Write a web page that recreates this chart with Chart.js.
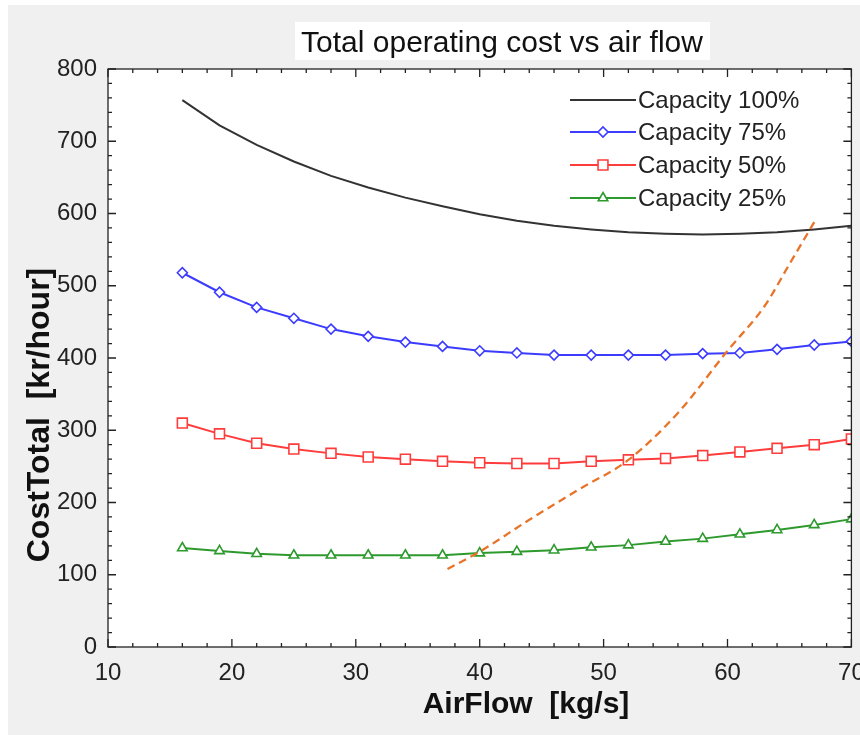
<!DOCTYPE html>
<html>
<head>
<meta charset="utf-8">
<script src="https://cdn.jsdelivr.net/npm/chart.js@4/dist/chart.umd.min.js"></script>
<style>
  html, body { margin: 0; padding: 0; background: #fff; }
  #wrap { width: 860px; height: 735px; }
</style>
</head>
<body>
<div id="wrap"><canvas id="costchart" width="860" height="735"></canvas></div>
<script>
// values
const airFlow = [16, 19, 22, 25, 28, 31, 34, 37, 40, 43, 46, 49, 52, 55, 58, 61, 64, 67, 70];
const cap100 = [757, 722, 695, 672, 652, 636, 622, 610, 599, 590, 583, 578, 574, 572, 571, 572, 574, 578, 583];
const cap75 = [518, 491, 470, 455, 440, 430, 422, 416, 410, 407, 404, 404, 404, 404, 406, 407, 412, 418, 423];
const cap50 = [310, 295, 282, 274, 268, 263, 260, 257, 255, 254, 254, 257, 259, 261, 265, 270, 275, 280, 288];
const cap25 = [137, 133, 129, 127, 127, 127, 127, 127, 130, 132, 134, 138, 141, 146, 150, 156, 162, 169, 177];
const optX = [37.4, 40, 44, 48, 52, 56, 60, 63, 65, 67];
const optY = [108, 132, 176, 218, 259, 324, 410, 472, 530, 588];

const xTicks = [10, 20, 30, 40, 50, 60, 70];
const yTicks = [0, 100, 200, 300, 400, 500, 600, 700, 800];
const seriesNames = ['Capacity 100%', 'Capacity 75%', 'Capacity 50%', 'Capacity 25%'];

const FONT = "'Liberation Sans', Arial, sans-serif";

const toPoints = (xs, ys) => xs.map((x, i) => ({ x: x, y: ys[i] }));

function series(label, values, color, style, radius) {
    return {
        label: label,
        data: toPoints(airFlow, values),
        showLine: true,
        borderColor: color,
        backgroundColor: '#ffffff',
        borderWidth: 2,
        pointStyle: style,
        pointRadius: radius,
        pointBorderWidth: 1.6,
        pointBorderColor: color,
        pointBackgroundColor: '#ffffff',
        tension: 0
    };
}

const datasets = [
    series(seriesNames[0], cap100, '#333333', false, 0),
    series(seriesNames[1], cap75, '#3c3cff', 'rectRot', 5),
    series(seriesNames[2], cap50, '#ff3c3c', 'rect', 7),
    series(seriesNames[3], cap25, '#2e9a2e', 'triangle', 5.5),
    {
        label: '',
        data: toPoints(optX, optY),
        showLine: true,
        borderColor: '#e8742a',
        borderWidth: 2.3,
        borderDash: [8, 5],
        pointRadius: 0,
        cubicInterpolationMode: 'monotone',
        order: -1
    }
];

// background, frame, inward ticks, titles and legend
const decor = {
    id: 'decor',
    beforeDraw(chart) {
        const ctx = chart.ctx;
        const a = chart.chartArea;
        ctx.save();
        ctx.fillStyle = '#ffffff';
        ctx.fillRect(0, 0, chart.width, chart.height);
        ctx.fillStyle = '#f0f0f0';
        ctx.fillRect(8, 5, chart.width - 8, chart.height - 5);
        ctx.fillStyle = '#ffffff';
        ctx.fillRect(a.left, a.top, a.right - a.left, a.bottom - a.top);
        ctx.restore();
    },
    afterDraw(chart) {
        const ctx = chart.ctx;
        const a = chart.chartArea;
        const xs = chart.scales.x, ys = chart.scales.y;
        ctx.save();
        ctx.strokeStyle = '#222';
        ctx.lineWidth = 1.3;
        ctx.strokeRect(a.left, a.top, a.right - a.left, a.bottom - a.top);

        ctx.beginPath();
        for (let v = 10; v <= 70; v += 2) {
            const px = xs.getPixelForValue(v);
            const len = v % 10 === 0 ? 8 : 4;
            ctx.moveTo(px, a.bottom); ctx.lineTo(px, a.bottom - len);
            ctx.moveTo(px, a.top); ctx.lineTo(px, a.top + len);
        }
        for (let v = 0; v <= 800; v += 20) {
            const py = ys.getPixelForValue(v);
            const len = v % 100 === 0 ? 8 : 4;
            ctx.moveTo(a.left, py); ctx.lineTo(a.left + len, py);
            ctx.moveTo(a.right, py); ctx.lineTo(a.right - len, py);
        }
        ctx.stroke();

        // chart title in a white box
        ctx.fillStyle = '#ffffff';
        ctx.fillRect(295, 22, 415, 38);
        ctx.fillStyle = '#111';
        ctx.font = '30px ' + FONT;
        ctx.textAlign = 'center';
        ctx.textBaseline = 'alphabetic';
        ctx.fillText('Total operating cost vs air flow', 502, 52);

        // axis titles
        ctx.font = 'bold 30px ' + FONT;
        ctx.fillText('AirFlow  [kg/s]', 526, 713);
        ctx.save();
        ctx.translate(49, 415);
        ctx.rotate(-Math.PI / 2);
        ctx.font = 'bold 32px ' + FONT;
        ctx.fillText('CostTotal  [kr/hour]', 0, 0);
        ctx.restore();

        // legend inside the plot
        const rows = [100, 132, 165, 198];
        ctx.font = '24px ' + FONT;
        ctx.textAlign = 'left';
        ctx.textBaseline = 'middle';
        for (let i = 0; i < 4; i++) {
            const ds = chart.data.datasets[i];
            const y = rows[i];
            ctx.strokeStyle = ds.borderColor;
            ctx.lineWidth = ds.borderWidth;
            ctx.beginPath();
            ctx.moveTo(570, y); ctx.lineTo(636, y);
            ctx.stroke();
            if (ds.pointRadius > 0) {
                ctx.fillStyle = '#ffffff';
                ctx.lineWidth = ds.pointBorderWidth;
                Chart.helpers.drawPoint(ctx, {
                    pointStyle: ds.pointStyle, radius: ds.pointRadius,
                    borderWidth: ds.pointBorderWidth, rotation: 0
                }, 603, y);
            }
            ctx.fillStyle = '#222';
            ctx.fillText(ds.label, 638, y + 1);
        }
        ctx.restore();
    }
};

new Chart(document.getElementById('costchart'), {
    type: 'scatter',
    data: { datasets: datasets },
    plugins: [decor],
    options: {
        responsive: false,
        animation: false,
        layout: { padding: { left: 8, top: 69, right: 7, bottom: 0 } },
        plugins: {
            legend: { display: false },
            tooltip: { enabled: false }
        },
        scales: {
            x: {
                type: 'linear',
                min: 10,
                max: 70,
                afterBuildTicks: s => { s.ticks = xTicks.map(v => ({ value: v })); },
                afterFit: s => {
                    s.height = 88;
                    s.paddingLeft = 0; s.paddingRight = 0;
                },
                ticks: {
                    autoSkip: false,
                    maxRotation: 0,
                    padding: 12,
                    color: '#222',
                    font: { family: FONT, size: 24 }
                },
                grid: { display: false, drawTicks: false },
                border: { display: false }
            },
            y: {
                type: 'linear',
                min: 0,
                max: 800,
                afterBuildTicks: s => { s.ticks = yTicks.map(v => ({ value: v })); },
                afterFit: s => {
                    s.width = 100;
                    s.paddingTop = 0; s.paddingBottom = 0;
                },
                ticks: {
                    autoSkip: false,
                    padding: 11,
                    color: '#222',
                    font: { family: FONT, size: 24 }
                },
                grid: { display: false, drawTicks: false },
                border: { display: false }
            }
        }
    }
});
</script>
</body>
</html>
